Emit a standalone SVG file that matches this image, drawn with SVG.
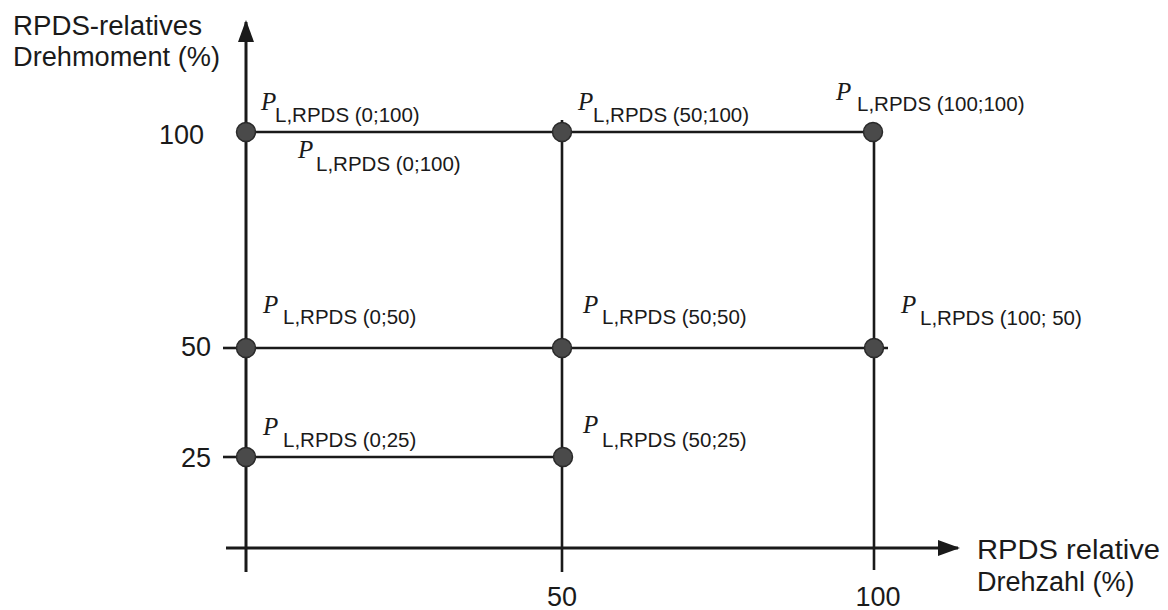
<svg xmlns="http://www.w3.org/2000/svg" width="1168" height="610" viewBox="0 0 1168 610">
  <style>
    .ax { stroke: #1a1a1a; stroke-width: 3; fill: none; }
    .grid { stroke: #1a1a1a; stroke-width: 2.6; fill: none; }
    .dot { fill: #4a4a4a; stroke: #2a2a2a; stroke-width: 1.5; }
    .lbl { font-family: "Liberation Sans", Arial, sans-serif; font-size: 27px; fill: #1a1a1a; }
    .p { font-family: "Liberation Serif", "Times New Roman", serif; font-style: italic; font-size: 25px; fill: #1a1a1a; }
    .sub { font-family: "Liberation Sans", Arial, sans-serif; font-size: 20.5px; fill: #1a1a1a; }
  </style>
  <defs>
    <marker id="arrow" viewBox="0 0 22 16" refX="20" refY="8" markerWidth="22" markerHeight="16" markerUnits="userSpaceOnUse" orient="auto">
      <path d="M0,0 L22,8 L0,16 z" fill="#1a1a1a"/>
    </marker>
  </defs>
  <rect width="1168" height="610" fill="#ffffff"/>

  <!-- axes with ticks and scale labels -->
  <g id="axes">
    <line class="ax" x1="246" y1="572" x2="246" y2="22" marker-end="url(#arrow)"/>
    <line class="ax" x1="226" y1="548" x2="958" y2="548" marker-end="url(#arrow)"/>
    <line class="grid" x1="223" y1="348" x2="246" y2="348"/>
    <line class="grid" x1="223" y1="457" x2="246" y2="457"/>
    <text class="lbl" x="13" y="35" textLength="189" lengthAdjust="spacingAndGlyphs">RPDS-relatives</text>
    <text class="lbl" x="13" y="66" textLength="207" lengthAdjust="spacingAndGlyphs">Drehmoment (%)</text>
    <text class="lbl" x="204" y="144" text-anchor="end">100</text>
    <text class="lbl" x="211" y="356" text-anchor="end">50</text>
    <text class="lbl" x="211" y="467" text-anchor="end">25</text>
    <text class="lbl" x="562" y="606" text-anchor="middle">50</text>
    <text class="lbl" x="878" y="606" text-anchor="middle">100</text>
    <text class="lbl" x="977" y="559" textLength="183" lengthAdjust="spacingAndGlyphs">RPDS relative</text>
    <text class="lbl" x="977" y="591">Drehzahl (%)</text>
  </g>

  <!-- grid lines between operating points -->
  <g id="connectors">
    <line class="grid" x1="246" y1="132" x2="874" y2="132"/>
    <line class="grid" x1="246" y1="348" x2="888" y2="348"/>
    <line class="grid" x1="246" y1="457" x2="562" y2="457"/>
    <line class="grid" x1="562" y1="120" x2="562" y2="572"/>
    <line class="grid" x1="874" y1="132" x2="874" y2="570"/>
  </g>

  <!-- operating points -->
  <g id="p-0-100">
    <circle class="dot" cx="246" cy="132" r="9.5"/>
    <text class="p" x="261" y="110">P</text>
    <text class="sub" x="275" y="122">L,RPDS (0;100)</text>
  </g>
  <g id="p-0-100-b">
    <text class="p" x="298" y="158">P</text>
    <text class="sub" x="316" y="171">L,RPDS (0;100)</text>
  </g>
  <g id="p-50-100">
    <circle class="dot" cx="562" cy="132" r="9.5"/>
    <text class="p" x="578" y="110">P</text>
    <text class="sub" x="593" y="122">L,RPDS (50;100)</text>
  </g>
  <g id="p-100-100">
    <circle class="dot" cx="873" cy="132" r="9.5"/>
    <text class="p" x="836" y="100">P</text>
    <text class="sub" x="857" y="111">L,RPDS (100;100)</text>
  </g>
  <g id="p-0-50">
    <circle class="dot" cx="246" cy="348" r="9.5"/>
    <text class="p" x="263" y="313">P</text>
    <text class="sub" x="283" y="324">L,RPDS (0;50)</text>
  </g>
  <g id="p-50-50">
    <circle class="dot" cx="562" cy="348" r="9.5"/>
    <text class="p" x="583" y="313">P</text>
    <text class="sub" x="602" y="324">L,RPDS (50;50)</text>
  </g>
  <g id="p-100-50">
    <circle class="dot" cx="874" cy="348" r="9.5"/>
    <text class="p" x="901" y="313">P</text>
    <text class="sub" x="920" y="325">L,RPDS (100; 50)</text>
  </g>
  <g id="p-0-25">
    <circle class="dot" cx="246" cy="457" r="9.5"/>
    <text class="p" x="263" y="435">P</text>
    <text class="sub" x="283" y="447">L,RPDS (0;25)</text>
  </g>
  <g id="p-50-25">
    <circle class="dot" cx="563" cy="457" r="9.5"/>
    <text class="p" x="583" y="433">P</text>
    <text class="sub" x="602" y="447">L,RPDS (50;25)</text>
  </g>
</svg>
